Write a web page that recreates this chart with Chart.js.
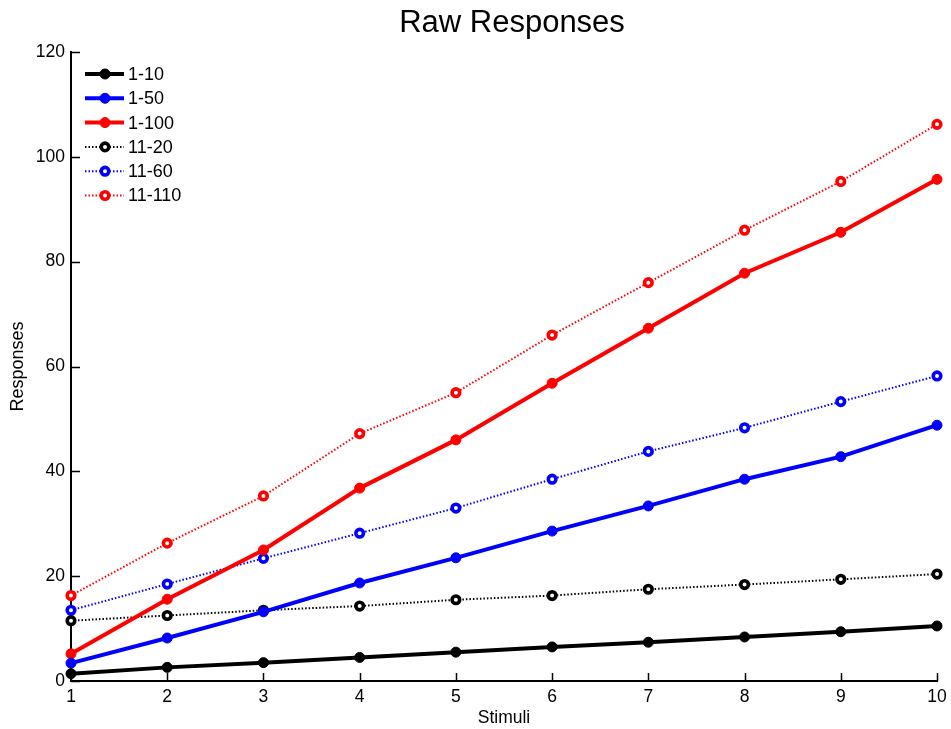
<!DOCTYPE html>
<html>
<head>
<meta charset="utf-8">
<script src="https://cdn.jsdelivr.net/npm/chart.js@4/dist/chart.umd.min.js"></script>
<style>
  html, body { margin: 0; padding: 0; background: #fff; }
  #wrap { width: 951px; height: 729px; }
</style>
</head>
<body>
<div id="wrap"><canvas id="rawChart" width="951" height="729"></canvas></div>
<script>
// Data
const stimuli = [1, 2, 3, 4, 5, 6, 7, 8, 9, 10];
const r1_10   = [1.4, 2.6, 3.5, 4.5, 5.5, 6.5, 7.4, 8.4, 9.4, 10.5];
const r1_50   = [3.4, 8.2, 13.2, 18.7, 23.5, 28.6, 33.4, 38.5, 42.8, 48.8];
const r1_100  = [5.2, 15.6, 25.0, 36.8, 46.0, 56.8, 67.3, 77.8, 85.6, 95.7];
const r11_20  = [11.5, 12.5, 13.5, 14.3, 15.5, 16.3, 17.5, 18.4, 19.4, 20.4];
const r11_60  = [13.5, 18.5, 23.4, 28.2, 33.0, 38.5, 43.8, 48.3, 53.3, 58.2];
const r11_110 = [16.3, 26.3, 35.3, 47.2, 55.0, 66.0, 76.0, 86.0, 95.3, 106.2];
const yTicks = [0, 20, 40, 60, 80, 100, 120];
const chartTitle = 'Raw Responses';

const FONT = 'Liberation Sans, Arial, Helvetica, sans-serif';

function pts(arr) {
    return arr.map((v, i) => ({ x: stimuli[i], y: v }));
}

function solid(label, data, color) {
    return {
        label: label,
        data: pts(data),
        borderColor: color,
        backgroundColor: color,
        borderWidth: 4,
        pointRadius: 5,
        pointBorderWidth: 1,
        pointBackgroundColor: color,
        pointBorderColor: color,
        tension: 0,
        clip: false
    };
}

function dotted(label, data, color) {
    return {
        label: label,
        data: pts(data),
        borderColor: color,
        backgroundColor: '#fff',
        borderWidth: 2,
        borderDash: [1.5, 2],
        pointRadius: 3.8,
        pointBorderWidth: 3.6,
        pointBackgroundColor: '#fff',
        pointBorderColor: color,
        tension: 0,
        clip: false
    };
}

// title centred over the plot like the original figure
const topTitle = {
    id: 'topTitle',
    afterDraw(chart) {
        const ctx = chart.ctx;
        ctx.save();
        ctx.font = '31px ' + FONT;
        ctx.fillStyle = '#000';
        ctx.textAlign = 'center';
        ctx.textBaseline = 'alphabetic';
        ctx.fillText(chartTitle, 512, 32);
        ctx.restore();
    }
};

// inward tick marks, MATLAB style
const innerTicks = {
    id: 'innerTicks',
    afterDraw(chart) {
        const ctx = chart.ctx;
        const xs = chart.scales.x, ys = chart.scales.y;
        ctx.save();
        ctx.strokeStyle = '#000';
        ctx.lineWidth = 1.5;
        ctx.beginPath();
        yTicks.forEach(v => {
            const py = Math.round(ys.getPixelForValue(v)) + 0.5;
            ctx.moveTo(xs.left, py);
            ctx.lineTo(xs.left + 9, py);
        });
        stimuli.forEach(v => {
            const px = Math.round(xs.getPixelForValue(v)) + 0.5;
            ctx.moveTo(px, ys.bottom);
            ctx.lineTo(px, ys.bottom - 8);
        });
        ctx.stroke();
        ctx.restore();
    }
};

// legend box in the upper left of the plot
const innerLegend = {
    id: 'innerLegend',
    afterDraw(chart) {
        const ctx = chart.ctx;
        ctx.save();
        ctx.font = '18px ' + FONT;
        ctx.textBaseline = 'middle';
        ctx.textAlign = 'left';
        chart.data.datasets.forEach((ds, i) => {
            const y = 74 + i * 24.3;
            ctx.strokeStyle = ds.borderColor;
            ctx.lineWidth = ds.borderWidth;
            ctx.setLineDash(ds.borderDash || []);
            ctx.beginPath();
            ctx.moveTo(85, y);
            ctx.lineTo(124, y);
            ctx.stroke();
            ctx.setLineDash([]);
            ctx.beginPath();
            ctx.arc(105, y, ds.pointRadius, 0, Math.PI * 2);
            ctx.fillStyle = ds.pointBackgroundColor;
            ctx.fill();
            ctx.lineWidth = ds.pointBorderWidth;
            ctx.strokeStyle = ds.pointBorderColor;
            ctx.stroke();
            ctx.fillStyle = '#000';
            ctx.fillText(ds.label, 128, y + 1);
        });
        ctx.restore();
    }
};

const ctx = document.getElementById('rawChart').getContext('2d');
new Chart(ctx, {
    type: 'line',
    data: {
        datasets: [
            solid('1-10', r1_10, '#000000'),
            solid('1-50', r1_50, '#0000ff'),
            solid('1-100', r1_100, '#ff0000'),
            dotted('11-20', r11_20, '#000000'),
            dotted('11-60', r11_60, '#0000ff'),
            dotted('11-110', r11_110, '#ff0000')
        ]
    },
    options: {
        responsive: false,
        animation: false,
        layout: { padding: { left: 0, right: 14, top: 52, bottom: 0 } },
        plugins: {
            legend: { display: false },
            tooltip: { enabled: false },
            title: { display: false }
        },
        scales: {
            x: {
                type: 'linear',
                min: 1,
                max: 10,
                afterFit(scale) {
                    scale.height = 48;
                    scale.paddingRight = 0;
                },
                ticks: {
                    stepSize: 1,
                    color: '#000',
                    padding: 6,
                    font: { family: FONT, size: 17.5 }
                },
                grid: { display: false, drawTicks: false },
                border: { display: true, color: '#000', width: 2 },
                title: {
                    display: true,
                    text: 'Stimuli',
                    color: '#000',
                    font: { family: FONT, size: 17.5 },
                    padding: { top: 0, bottom: 0 }
                }
            },
            y: {
                min: 0,
                max: 120,
                afterFit(scale) { scale.width = 71; },
                ticks: {
                    stepSize: 20,
                    color: '#000',
                    padding: 6,
                    font: { family: FONT, size: 17.5 }
                },
                grid: { display: false, drawTicks: false },
                border: { display: true, color: '#000', width: 2 },
                title: {
                    display: true,
                    text: 'Responses',
                    color: '#000',
                    font: { family: FONT, size: 18 },
                    padding: { top: 7, bottom: 0 }
                }
            }
        }
    },
    plugins: [topTitle, innerTicks, innerLegend]
});
</script>
</body>
</html>
